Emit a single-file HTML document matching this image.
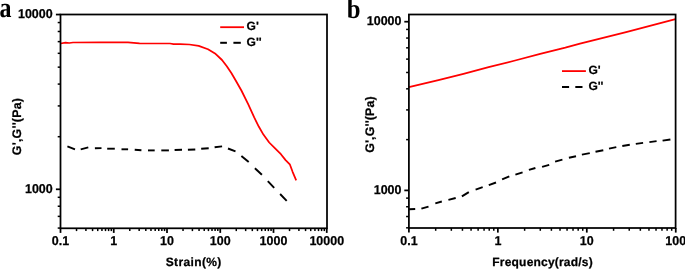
<!DOCTYPE html>
<html><head><meta charset="utf-8"><title>G', G'' rheology</title>
<style>
html,body{margin:0;padding:0;background:#fff;}
svg{display:block;will-change:transform;filter:grayscale(0);}
.s,.t{text-rendering:geometricPrecision;}
.s{font-family:"Liberation Sans",Arial,sans-serif;font-weight:bold;fill:#000;stroke:#000;stroke-width:0.25px;stroke-linejoin:round;}
.t{font-family:"Liberation Serif","Times New Roman",serif;font-weight:bold;fill:#000;}
</style></head><body>
<svg width="685" height="269" viewBox="0 0 685 269">
<rect width="685" height="269" fill="#fff"/>
<polyline points="60.5,43.5 65.5,42.6 69.3,43.0 73.0,42.5 100.0,42.4 128.0,42.4 139.5,43.4 170.0,43.5 173.6,44.1 180.0,44.1 189.4,44.5 198.7,45.9 208.0,49.2 215.0,53.4 222.0,60.0 226.8,66.3 231.5,73.3 236.0,81.0 241.4,90.5 248.4,104.6 254.2,117.4 258.9,126.8 263.4,134.6 269.2,142.5 275.1,148.4 280.9,154.2 285.6,160.1 289.8,164.3 292.6,171.8 296.2,180.3" fill="none" stroke="#ff0000" stroke-width="1.75" stroke-linejoin="round" stroke-linecap="butt"/>
<polyline points="67.4,146.4 75.0,149.3" fill="none" stroke="#000" stroke-width="1.9" stroke-linejoin="round" stroke-linecap="butt"/>
<polyline points="80.7,149.3 88.3,147.4" fill="none" stroke="#000" stroke-width="1.9" stroke-linejoin="round" stroke-linecap="butt"/>
<polyline points="94.9,148.3 101.5,148.1" fill="none" stroke="#000" stroke-width="1.9" stroke-linejoin="round" stroke-linecap="butt"/>
<polyline points="107.2,148.7 114.8,148.7" fill="none" stroke="#000" stroke-width="1.9" stroke-linejoin="round" stroke-linecap="butt"/>
<polyline points="121.5,149.3 128.1,149.3" fill="none" stroke="#000" stroke-width="1.9" stroke-linejoin="round" stroke-linecap="butt"/>
<polyline points="134.7,149.7 141.4,150.2" fill="none" stroke="#000" stroke-width="1.9" stroke-linejoin="round" stroke-linecap="butt"/>
<polyline points="148.0,150.4 154.7,150.4" fill="none" stroke="#000" stroke-width="1.9" stroke-linejoin="round" stroke-linecap="butt"/>
<polyline points="161.3,150.4 168.9,150.4" fill="none" stroke="#000" stroke-width="1.9" stroke-linejoin="round" stroke-linecap="butt"/>
<polyline points="174.6,150.0 182.0,149.8" fill="none" stroke="#000" stroke-width="1.9" stroke-linejoin="round" stroke-linecap="butt"/>
<polyline points="187.9,149.8 195.3,149.5" fill="none" stroke="#000" stroke-width="1.9" stroke-linejoin="round" stroke-linecap="butt"/>
<polyline points="201.2,148.8 208.7,148.2" fill="none" stroke="#000" stroke-width="1.9" stroke-linejoin="round" stroke-linecap="butt"/>
<polyline points="214.6,147.3 222.1,146.4" fill="none" stroke="#000" stroke-width="1.9" stroke-linejoin="round" stroke-linecap="butt"/>
<polyline points="228.0,148.5 235.5,151.4" fill="none" stroke="#000" stroke-width="1.9" stroke-linejoin="round" stroke-linecap="butt"/>
<polyline points="241.4,156.0 248.7,162.1" fill="none" stroke="#000" stroke-width="1.9" stroke-linejoin="round" stroke-linecap="butt"/>
<polyline points="254.9,168.2 261.9,174.7" fill="none" stroke="#000" stroke-width="1.9" stroke-linejoin="round" stroke-linecap="butt"/>
<polyline points="267.8,181.1 274.2,187.9" fill="none" stroke="#000" stroke-width="1.9" stroke-linejoin="round" stroke-linecap="butt"/>
<polyline points="280.1,194.0 286.7,200.8" fill="none" stroke="#000" stroke-width="1.9" stroke-linejoin="round" stroke-linecap="butt"/>
<rect x="60.50" y="14.50" width="266.50" height="213.80" fill="none" stroke="#000" stroke-width="1.75"/>
<line x1="60.50" y1="228.30" x2="60.50" y2="232.90" stroke="#000" stroke-width="1.75" stroke-linecap="butt"/>
<line x1="76.53" y1="228.30" x2="76.53" y2="231.10" stroke="#000" stroke-width="1.5" stroke-linecap="butt"/>
<line x1="85.91" y1="228.30" x2="85.91" y2="231.10" stroke="#000" stroke-width="1.5" stroke-linecap="butt"/>
<line x1="92.56" y1="228.30" x2="92.56" y2="231.10" stroke="#000" stroke-width="1.5" stroke-linecap="butt"/>
<line x1="97.72" y1="228.30" x2="97.72" y2="231.10" stroke="#000" stroke-width="1.5" stroke-linecap="butt"/>
<line x1="101.94" y1="228.30" x2="101.94" y2="231.10" stroke="#000" stroke-width="1.5" stroke-linecap="butt"/>
<line x1="105.50" y1="228.30" x2="105.50" y2="231.10" stroke="#000" stroke-width="1.5" stroke-linecap="butt"/>
<line x1="108.59" y1="228.30" x2="108.59" y2="231.10" stroke="#000" stroke-width="1.5" stroke-linecap="butt"/>
<line x1="111.31" y1="228.30" x2="111.31" y2="231.10" stroke="#000" stroke-width="1.5" stroke-linecap="butt"/>
<line x1="113.75" y1="228.30" x2="113.75" y2="232.90" stroke="#000" stroke-width="1.75" stroke-linecap="butt"/>
<line x1="129.78" y1="228.30" x2="129.78" y2="231.10" stroke="#000" stroke-width="1.5" stroke-linecap="butt"/>
<line x1="139.16" y1="228.30" x2="139.16" y2="231.10" stroke="#000" stroke-width="1.5" stroke-linecap="butt"/>
<line x1="145.81" y1="228.30" x2="145.81" y2="231.10" stroke="#000" stroke-width="1.5" stroke-linecap="butt"/>
<line x1="150.97" y1="228.30" x2="150.97" y2="231.10" stroke="#000" stroke-width="1.5" stroke-linecap="butt"/>
<line x1="155.19" y1="228.30" x2="155.19" y2="231.10" stroke="#000" stroke-width="1.5" stroke-linecap="butt"/>
<line x1="158.75" y1="228.30" x2="158.75" y2="231.10" stroke="#000" stroke-width="1.5" stroke-linecap="butt"/>
<line x1="161.84" y1="228.30" x2="161.84" y2="231.10" stroke="#000" stroke-width="1.5" stroke-linecap="butt"/>
<line x1="164.56" y1="228.30" x2="164.56" y2="231.10" stroke="#000" stroke-width="1.5" stroke-linecap="butt"/>
<line x1="167.00" y1="228.30" x2="167.00" y2="232.90" stroke="#000" stroke-width="1.75" stroke-linecap="butt"/>
<line x1="183.03" y1="228.30" x2="183.03" y2="231.10" stroke="#000" stroke-width="1.5" stroke-linecap="butt"/>
<line x1="192.41" y1="228.30" x2="192.41" y2="231.10" stroke="#000" stroke-width="1.5" stroke-linecap="butt"/>
<line x1="199.06" y1="228.30" x2="199.06" y2="231.10" stroke="#000" stroke-width="1.5" stroke-linecap="butt"/>
<line x1="204.22" y1="228.30" x2="204.22" y2="231.10" stroke="#000" stroke-width="1.5" stroke-linecap="butt"/>
<line x1="208.44" y1="228.30" x2="208.44" y2="231.10" stroke="#000" stroke-width="1.5" stroke-linecap="butt"/>
<line x1="212.00" y1="228.30" x2="212.00" y2="231.10" stroke="#000" stroke-width="1.5" stroke-linecap="butt"/>
<line x1="215.09" y1="228.30" x2="215.09" y2="231.10" stroke="#000" stroke-width="1.5" stroke-linecap="butt"/>
<line x1="217.81" y1="228.30" x2="217.81" y2="231.10" stroke="#000" stroke-width="1.5" stroke-linecap="butt"/>
<line x1="220.25" y1="228.30" x2="220.25" y2="232.90" stroke="#000" stroke-width="1.75" stroke-linecap="butt"/>
<line x1="236.28" y1="228.30" x2="236.28" y2="231.10" stroke="#000" stroke-width="1.5" stroke-linecap="butt"/>
<line x1="245.66" y1="228.30" x2="245.66" y2="231.10" stroke="#000" stroke-width="1.5" stroke-linecap="butt"/>
<line x1="252.31" y1="228.30" x2="252.31" y2="231.10" stroke="#000" stroke-width="1.5" stroke-linecap="butt"/>
<line x1="257.47" y1="228.30" x2="257.47" y2="231.10" stroke="#000" stroke-width="1.5" stroke-linecap="butt"/>
<line x1="261.69" y1="228.30" x2="261.69" y2="231.10" stroke="#000" stroke-width="1.5" stroke-linecap="butt"/>
<line x1="265.25" y1="228.30" x2="265.25" y2="231.10" stroke="#000" stroke-width="1.5" stroke-linecap="butt"/>
<line x1="268.34" y1="228.30" x2="268.34" y2="231.10" stroke="#000" stroke-width="1.5" stroke-linecap="butt"/>
<line x1="271.06" y1="228.30" x2="271.06" y2="231.10" stroke="#000" stroke-width="1.5" stroke-linecap="butt"/>
<line x1="273.50" y1="228.30" x2="273.50" y2="232.90" stroke="#000" stroke-width="1.75" stroke-linecap="butt"/>
<line x1="289.53" y1="228.30" x2="289.53" y2="231.10" stroke="#000" stroke-width="1.5" stroke-linecap="butt"/>
<line x1="298.91" y1="228.30" x2="298.91" y2="231.10" stroke="#000" stroke-width="1.5" stroke-linecap="butt"/>
<line x1="305.56" y1="228.30" x2="305.56" y2="231.10" stroke="#000" stroke-width="1.5" stroke-linecap="butt"/>
<line x1="310.72" y1="228.30" x2="310.72" y2="231.10" stroke="#000" stroke-width="1.5" stroke-linecap="butt"/>
<line x1="314.94" y1="228.30" x2="314.94" y2="231.10" stroke="#000" stroke-width="1.5" stroke-linecap="butt"/>
<line x1="318.50" y1="228.30" x2="318.50" y2="231.10" stroke="#000" stroke-width="1.5" stroke-linecap="butt"/>
<line x1="321.59" y1="228.30" x2="321.59" y2="231.10" stroke="#000" stroke-width="1.5" stroke-linecap="butt"/>
<line x1="324.31" y1="228.30" x2="324.31" y2="231.10" stroke="#000" stroke-width="1.5" stroke-linecap="butt"/>
<line x1="326.75" y1="228.30" x2="326.75" y2="232.90" stroke="#000" stroke-width="1.75" stroke-linecap="butt"/>
<line x1="60.50" y1="228.07" x2="57.70" y2="228.07" stroke="#000" stroke-width="1.5" stroke-linecap="butt"/>
<line x1="60.50" y1="216.37" x2="57.70" y2="216.37" stroke="#000" stroke-width="1.5" stroke-linecap="butt"/>
<line x1="60.50" y1="206.24" x2="57.70" y2="206.24" stroke="#000" stroke-width="1.5" stroke-linecap="butt"/>
<line x1="60.50" y1="197.30" x2="57.70" y2="197.30" stroke="#000" stroke-width="1.5" stroke-linecap="butt"/>
<line x1="60.50" y1="189.30" x2="55.90" y2="189.30" stroke="#000" stroke-width="1.75" stroke-linecap="butt"/>
<line x1="60.50" y1="136.70" x2="57.70" y2="136.70" stroke="#000" stroke-width="1.5" stroke-linecap="butt"/>
<line x1="60.50" y1="105.92" x2="57.70" y2="105.92" stroke="#000" stroke-width="1.5" stroke-linecap="butt"/>
<line x1="60.50" y1="84.09" x2="57.70" y2="84.09" stroke="#000" stroke-width="1.5" stroke-linecap="butt"/>
<line x1="60.50" y1="67.15" x2="57.70" y2="67.15" stroke="#000" stroke-width="1.5" stroke-linecap="butt"/>
<line x1="60.50" y1="53.32" x2="57.70" y2="53.32" stroke="#000" stroke-width="1.5" stroke-linecap="butt"/>
<line x1="60.50" y1="41.62" x2="57.70" y2="41.62" stroke="#000" stroke-width="1.5" stroke-linecap="butt"/>
<line x1="60.50" y1="31.49" x2="57.70" y2="31.49" stroke="#000" stroke-width="1.5" stroke-linecap="butt"/>
<line x1="60.50" y1="22.55" x2="57.70" y2="22.55" stroke="#000" stroke-width="1.5" stroke-linecap="butt"/>
<line x1="60.50" y1="14.55" x2="55.90" y2="14.55" stroke="#000" stroke-width="1.75" stroke-linecap="butt"/>
<text class="s" transform="translate(60.50,245.10) scale(0.975,1)" font-size="12.8" text-anchor="middle">0.1</text>
<text class="s" transform="translate(113.75,245.10) scale(0.975,1)" font-size="12.8" text-anchor="middle">1</text>
<text class="s" transform="translate(167.00,245.10) scale(0.975,1)" font-size="12.8" text-anchor="middle">10</text>
<text class="s" transform="translate(220.25,245.10) scale(0.975,1)" font-size="12.8" text-anchor="middle">100</text>
<text class="s" transform="translate(273.50,245.10) scale(0.975,1)" font-size="12.8" text-anchor="middle">1000</text>
<text class="s" transform="translate(326.75,245.10) scale(0.975,1)" font-size="12.8" text-anchor="middle">10000</text>
<text class="s" transform="translate(52.70,193.30) scale(0.975,1)" font-size="12.8" text-anchor="end">1000</text>
<text class="s" transform="translate(52.70,17.55) scale(0.975,1)" font-size="12.8" text-anchor="end">10000</text>
<line x1="220.20" y1="27.20" x2="244.00" y2="27.20" stroke="#ff0000" stroke-width="1.8" stroke-linecap="butt"/>
<text class="s" transform="translate(246.60,30.20) scale(1.0,1)" font-size="12" text-anchor="start">G'</text>
<line x1="220.20" y1="42.80" x2="226.90" y2="42.80" stroke="#000" stroke-width="2" stroke-linecap="butt"/>
<line x1="233.40" y1="42.80" x2="240.80" y2="42.80" stroke="#000" stroke-width="2" stroke-linecap="butt"/>
<text class="s" transform="translate(246.60,45.80) scale(1.0,1)" font-size="12" text-anchor="start">G''</text>
<text class="s" transform="translate(193.70,265.90) scale(1.0,1)" font-size="12" text-anchor="middle" letter-spacing="0.37">Strain(%)</text>
<text class="s" transform="translate(21.10,126.50) rotate(-90) scale(1.0,1)" font-size="12.4" text-anchor="middle" letter-spacing="0.23">G',G''(Pa)</text>
<text class="t" transform="translate(-0.60,17.40) scale(0.84,1)" font-size="28.5" text-anchor="start">a</text>
<polyline points="408.9,87.1 438.4,80.1 463.5,73.9 488.6,67.2 515.1,60.5 540.2,53.8 565.3,47.6 580.0,43.6 626.1,32.1 675.5,19.2" fill="none" stroke="#ff0000" stroke-width="1.75" stroke-linejoin="round" stroke-linecap="butt"/>
<polyline points="409.1,209.2 415.2,209.0" fill="none" stroke="#000" stroke-width="1.9" stroke-linejoin="round" stroke-linecap="butt"/>
<polyline points="421.4,208.7 428.5,206.6" fill="none" stroke="#000" stroke-width="1.9" stroke-linejoin="round" stroke-linecap="butt"/>
<polyline points="435.3,203.4 441.8,201.5" fill="none" stroke="#000" stroke-width="1.9" stroke-linejoin="round" stroke-linecap="butt"/>
<polyline points="448.4,199.9 455.7,198.0" fill="none" stroke="#000" stroke-width="1.9" stroke-linejoin="round" stroke-linecap="butt"/>
<polyline points="461.9,196.4 468.8,192.1" fill="none" stroke="#000" stroke-width="1.9" stroke-linejoin="round" stroke-linecap="butt"/>
<polyline points="475.6,189.7 482.7,187.2" fill="none" stroke="#000" stroke-width="1.9" stroke-linejoin="round" stroke-linecap="butt"/>
<polyline points="488.8,185.2 496.0,182.5" fill="none" stroke="#000" stroke-width="1.9" stroke-linejoin="round" stroke-linecap="butt"/>
<polyline points="502.1,179.4 509.3,176.4" fill="none" stroke="#000" stroke-width="1.9" stroke-linejoin="round" stroke-linecap="butt"/>
<polyline points="515.4,174.7 522.6,172.3" fill="none" stroke="#000" stroke-width="1.9" stroke-linejoin="round" stroke-linecap="butt"/>
<polyline points="528.9,169.9 535.4,168.0" fill="none" stroke="#000" stroke-width="1.9" stroke-linejoin="round" stroke-linecap="butt"/>
<polyline points="542.1,166.9 549.2,164.8" fill="none" stroke="#000" stroke-width="1.9" stroke-linejoin="round" stroke-linecap="butt"/>
<polyline points="555.1,161.6 562.4,159.6" fill="none" stroke="#000" stroke-width="1.9" stroke-linejoin="round" stroke-linecap="butt"/>
<polyline points="568.9,157.7 576.0,156.2" fill="none" stroke="#000" stroke-width="1.9" stroke-linejoin="round" stroke-linecap="butt"/>
<polyline points="581.9,154.6 589.8,153.1" fill="none" stroke="#000" stroke-width="1.9" stroke-linejoin="round" stroke-linecap="butt"/>
<polyline points="595.5,151.8 603.3,150.2" fill="none" stroke="#000" stroke-width="1.9" stroke-linejoin="round" stroke-linecap="butt"/>
<polyline points="609.0,148.6 616.3,147.1" fill="none" stroke="#000" stroke-width="1.9" stroke-linejoin="round" stroke-linecap="butt"/>
<polyline points="622.3,146.0 629.8,144.7" fill="none" stroke="#000" stroke-width="1.9" stroke-linejoin="round" stroke-linecap="butt"/>
<polyline points="635.8,143.9 643.1,142.9" fill="none" stroke="#000" stroke-width="1.9" stroke-linejoin="round" stroke-linecap="butt"/>
<polyline points="649.4,142.1 656.6,141.1" fill="none" stroke="#000" stroke-width="1.9" stroke-linejoin="round" stroke-linecap="butt"/>
<polyline points="662.6,140.6 670.4,139.5" fill="none" stroke="#000" stroke-width="1.9" stroke-linejoin="round" stroke-linecap="butt"/>
<rect x="408.90" y="14.50" width="266.70" height="213.50" fill="none" stroke="#000" stroke-width="1.75"/>
<line x1="408.90" y1="228.00" x2="408.90" y2="232.60" stroke="#000" stroke-width="1.75" stroke-linecap="butt"/>
<line x1="435.68" y1="228.00" x2="435.68" y2="230.80" stroke="#000" stroke-width="1.5" stroke-linecap="butt"/>
<line x1="451.34" y1="228.00" x2="451.34" y2="230.80" stroke="#000" stroke-width="1.5" stroke-linecap="butt"/>
<line x1="462.45" y1="228.00" x2="462.45" y2="230.80" stroke="#000" stroke-width="1.5" stroke-linecap="butt"/>
<line x1="471.07" y1="228.00" x2="471.07" y2="230.80" stroke="#000" stroke-width="1.5" stroke-linecap="butt"/>
<line x1="478.12" y1="228.00" x2="478.12" y2="230.80" stroke="#000" stroke-width="1.5" stroke-linecap="butt"/>
<line x1="484.07" y1="228.00" x2="484.07" y2="230.80" stroke="#000" stroke-width="1.5" stroke-linecap="butt"/>
<line x1="489.23" y1="228.00" x2="489.23" y2="230.80" stroke="#000" stroke-width="1.5" stroke-linecap="butt"/>
<line x1="493.78" y1="228.00" x2="493.78" y2="230.80" stroke="#000" stroke-width="1.5" stroke-linecap="butt"/>
<line x1="497.85" y1="228.00" x2="497.85" y2="232.60" stroke="#000" stroke-width="1.75" stroke-linecap="butt"/>
<line x1="524.63" y1="228.00" x2="524.63" y2="230.80" stroke="#000" stroke-width="1.5" stroke-linecap="butt"/>
<line x1="540.29" y1="228.00" x2="540.29" y2="230.80" stroke="#000" stroke-width="1.5" stroke-linecap="butt"/>
<line x1="551.40" y1="228.00" x2="551.40" y2="230.80" stroke="#000" stroke-width="1.5" stroke-linecap="butt"/>
<line x1="560.02" y1="228.00" x2="560.02" y2="230.80" stroke="#000" stroke-width="1.5" stroke-linecap="butt"/>
<line x1="567.07" y1="228.00" x2="567.07" y2="230.80" stroke="#000" stroke-width="1.5" stroke-linecap="butt"/>
<line x1="573.02" y1="228.00" x2="573.02" y2="230.80" stroke="#000" stroke-width="1.5" stroke-linecap="butt"/>
<line x1="578.18" y1="228.00" x2="578.18" y2="230.80" stroke="#000" stroke-width="1.5" stroke-linecap="butt"/>
<line x1="582.73" y1="228.00" x2="582.73" y2="230.80" stroke="#000" stroke-width="1.5" stroke-linecap="butt"/>
<line x1="586.80" y1="228.00" x2="586.80" y2="232.60" stroke="#000" stroke-width="1.75" stroke-linecap="butt"/>
<line x1="613.58" y1="228.00" x2="613.58" y2="230.80" stroke="#000" stroke-width="1.5" stroke-linecap="butt"/>
<line x1="629.24" y1="228.00" x2="629.24" y2="230.80" stroke="#000" stroke-width="1.5" stroke-linecap="butt"/>
<line x1="640.35" y1="228.00" x2="640.35" y2="230.80" stroke="#000" stroke-width="1.5" stroke-linecap="butt"/>
<line x1="648.97" y1="228.00" x2="648.97" y2="230.80" stroke="#000" stroke-width="1.5" stroke-linecap="butt"/>
<line x1="656.02" y1="228.00" x2="656.02" y2="230.80" stroke="#000" stroke-width="1.5" stroke-linecap="butt"/>
<line x1="661.97" y1="228.00" x2="661.97" y2="230.80" stroke="#000" stroke-width="1.5" stroke-linecap="butt"/>
<line x1="667.13" y1="228.00" x2="667.13" y2="230.80" stroke="#000" stroke-width="1.5" stroke-linecap="butt"/>
<line x1="671.68" y1="228.00" x2="671.68" y2="230.80" stroke="#000" stroke-width="1.5" stroke-linecap="butt"/>
<line x1="675.75" y1="228.00" x2="675.75" y2="232.60" stroke="#000" stroke-width="1.75" stroke-linecap="butt"/>
<line x1="408.90" y1="227.83" x2="406.10" y2="227.83" stroke="#000" stroke-width="1.5" stroke-linecap="butt"/>
<line x1="408.90" y1="216.53" x2="406.10" y2="216.53" stroke="#000" stroke-width="1.5" stroke-linecap="butt"/>
<line x1="408.90" y1="206.75" x2="406.10" y2="206.75" stroke="#000" stroke-width="1.5" stroke-linecap="butt"/>
<line x1="408.90" y1="198.12" x2="406.10" y2="198.12" stroke="#000" stroke-width="1.5" stroke-linecap="butt"/>
<line x1="408.90" y1="190.40" x2="404.30" y2="190.40" stroke="#000" stroke-width="1.75" stroke-linecap="butt"/>
<line x1="408.90" y1="139.62" x2="406.10" y2="139.62" stroke="#000" stroke-width="1.5" stroke-linecap="butt"/>
<line x1="408.90" y1="109.91" x2="406.10" y2="109.91" stroke="#000" stroke-width="1.5" stroke-linecap="butt"/>
<line x1="408.90" y1="88.83" x2="406.10" y2="88.83" stroke="#000" stroke-width="1.5" stroke-linecap="butt"/>
<line x1="408.90" y1="72.48" x2="406.10" y2="72.48" stroke="#000" stroke-width="1.5" stroke-linecap="butt"/>
<line x1="408.90" y1="59.13" x2="406.10" y2="59.13" stroke="#000" stroke-width="1.5" stroke-linecap="butt"/>
<line x1="408.90" y1="47.83" x2="406.10" y2="47.83" stroke="#000" stroke-width="1.5" stroke-linecap="butt"/>
<line x1="408.90" y1="38.05" x2="406.10" y2="38.05" stroke="#000" stroke-width="1.5" stroke-linecap="butt"/>
<line x1="408.90" y1="29.42" x2="406.10" y2="29.42" stroke="#000" stroke-width="1.5" stroke-linecap="butt"/>
<line x1="408.90" y1="21.70" x2="404.30" y2="21.70" stroke="#000" stroke-width="1.75" stroke-linecap="butt"/>
<text class="s" transform="translate(408.90,244.80) scale(0.975,1)" font-size="12.8" text-anchor="middle">0.1</text>
<text class="s" transform="translate(497.85,244.80) scale(0.975,1)" font-size="12.8" text-anchor="middle">1</text>
<text class="s" transform="translate(586.80,244.80) scale(0.975,1)" font-size="12.8" text-anchor="middle">10</text>
<text class="s" transform="translate(675.75,244.80) scale(0.975,1)" font-size="12.8" text-anchor="middle">100</text>
<text class="s" transform="translate(401.50,194.40) scale(0.975,1)" font-size="12.8" text-anchor="end">1000</text>
<text class="s" transform="translate(401.50,25.20) scale(0.975,1)" font-size="12.8" text-anchor="end">10000</text>
<line x1="562.00" y1="71.10" x2="585.90" y2="71.10" stroke="#ff0000" stroke-width="1.8" stroke-linecap="butt"/>
<text class="s" transform="translate(588.40,74.20) scale(1.0,1)" font-size="12" text-anchor="start">G'</text>
<line x1="562.00" y1="87.00" x2="569.10" y2="87.00" stroke="#000" stroke-width="2" stroke-linecap="butt"/>
<line x1="575.30" y1="87.00" x2="582.50" y2="87.00" stroke="#000" stroke-width="2" stroke-linecap="butt"/>
<text class="s" transform="translate(588.40,89.80) scale(1.0,1)" font-size="12" text-anchor="start">G''</text>
<text class="s" transform="translate(542.60,265.80) scale(1.0,1)" font-size="12" text-anchor="middle" letter-spacing="0.2">Frequency(rad/s)</text>
<text class="s" transform="translate(373.90,124.50) rotate(-90) scale(1.0,1)" font-size="12.4" text-anchor="middle" letter-spacing="0.16">G',G''(Pa)</text>
<text class="t" transform="translate(346.80,18.00) scale(0.9,1)" font-size="27.5" text-anchor="start">b</text>
</svg>
</body></html>
